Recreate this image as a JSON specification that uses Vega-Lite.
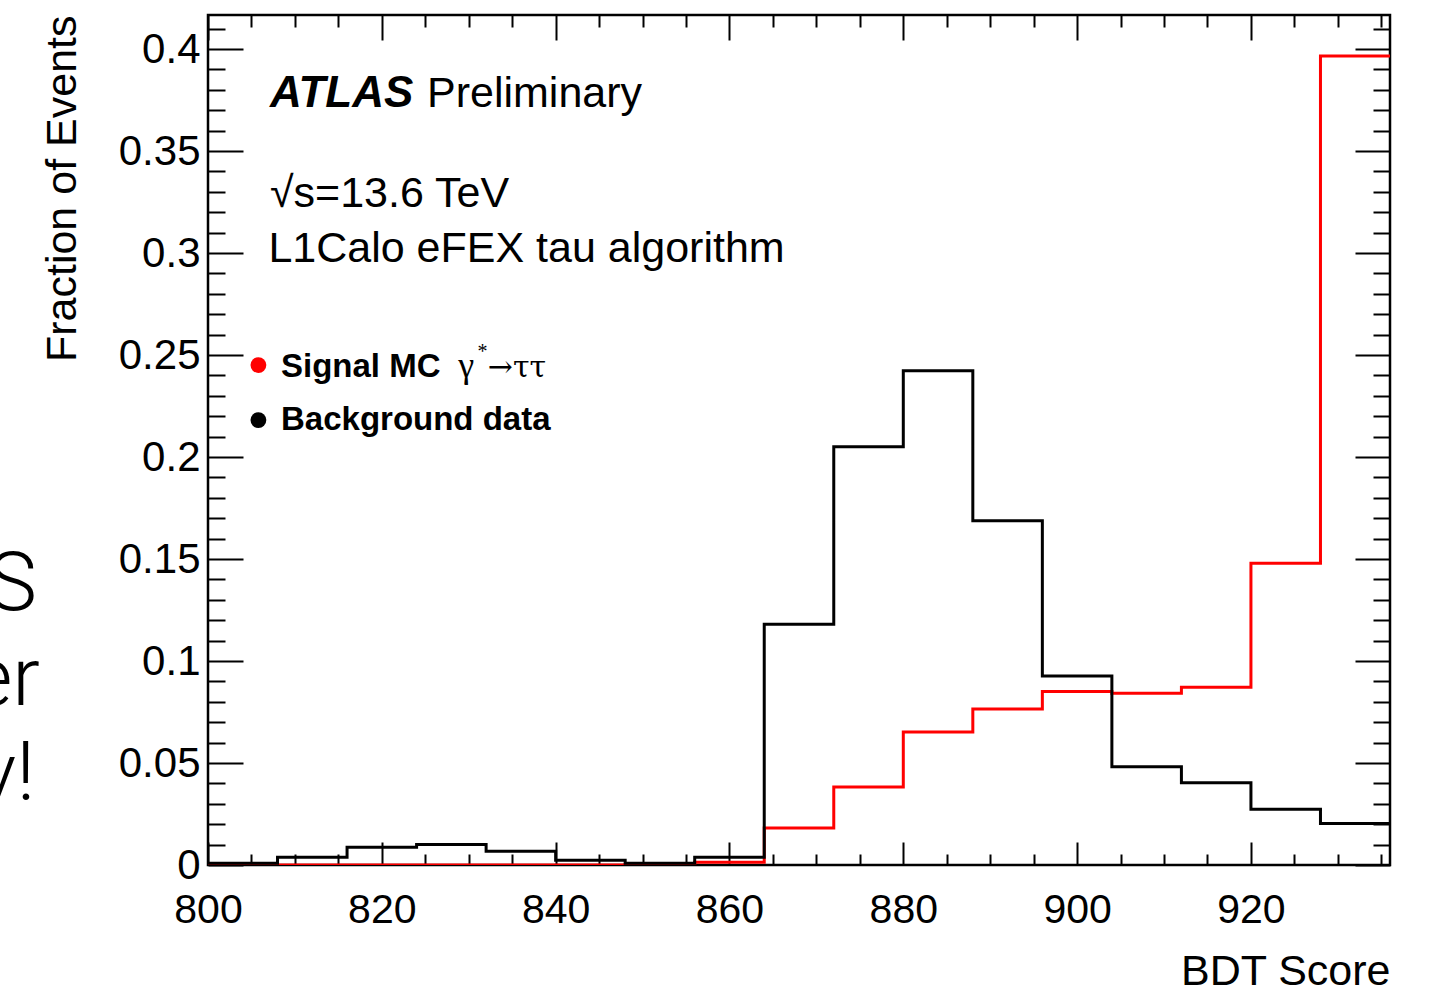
{
  "$schema": "https://vega.github.io/schema/vega-lite/v6.json",
  "width": 1182,
  "height": 850,
  "autosize": "none",
  "padding": {"left": 208, "top": 15, "right": 45, "bottom": 127},
  "background": "white",
  "config": {
    "view": {"stroke": "black", "strokeWidth": 2.5},
    "font": "Liberation Sans",
    "axis": {"domain": false, "grid": false, "labels": false, "ticks": true, "tickColor": "black", "tickWidth": 2, "title": null}
  },
  "datasets": {
    "hist": [
      {"series": "Background data", "bdt": 800, "fraction": 0.0008},
      {"series": "Background data", "bdt": 808, "fraction": 0.0038},
      {"series": "Background data", "bdt": 816, "fraction": 0.0087},
      {"series": "Background data", "bdt": 824, "fraction": 0.0101},
      {"series": "Background data", "bdt": 832, "fraction": 0.0067},
      {"series": "Background data", "bdt": 840, "fraction": 0.0023},
      {"series": "Background data", "bdt": 848, "fraction": 0.0008},
      {"series": "Background data", "bdt": 856, "fraction": 0.0038},
      {"series": "Background data", "bdt": 864, "fraction": 0.118},
      {"series": "Background data", "bdt": 872, "fraction": 0.205},
      {"series": "Background data", "bdt": 880, "fraction": 0.2423},
      {"series": "Background data", "bdt": 888, "fraction": 0.1688},
      {"series": "Background data", "bdt": 896, "fraction": 0.0926},
      {"series": "Background data", "bdt": 904, "fraction": 0.0482},
      {"series": "Background data", "bdt": 912, "fraction": 0.0403},
      {"series": "Background data", "bdt": 920, "fraction": 0.0273},
      {"series": "Background data", "bdt": 928, "fraction": 0.0204},
      {"series": "Background data", "bdt": 936, "fraction": 0.0204},
      {"series": "Signal MC", "bdt": 800, "fraction": 0.0},
      {"series": "Signal MC", "bdt": 808, "fraction": 0.0},
      {"series": "Signal MC", "bdt": 816, "fraction": 0.0},
      {"series": "Signal MC", "bdt": 824, "fraction": 0.0},
      {"series": "Signal MC", "bdt": 832, "fraction": 0.0},
      {"series": "Signal MC", "bdt": 840, "fraction": 0.0},
      {"series": "Signal MC", "bdt": 848, "fraction": 0.0003},
      {"series": "Signal MC", "bdt": 856, "fraction": 0.0013},
      {"series": "Signal MC", "bdt": 864, "fraction": 0.0181},
      {"series": "Signal MC", "bdt": 872, "fraction": 0.0382},
      {"series": "Signal MC", "bdt": 880, "fraction": 0.0652},
      {"series": "Signal MC", "bdt": 888, "fraction": 0.0765},
      {"series": "Signal MC", "bdt": 896, "fraction": 0.085},
      {"series": "Signal MC", "bdt": 904, "fraction": 0.0842},
      {"series": "Signal MC", "bdt": 912, "fraction": 0.0871},
      {"series": "Signal MC", "bdt": 920, "fraction": 0.1479},
      {"series": "Signal MC", "bdt": 928, "fraction": 0.3966},
      {"series": "Signal MC", "bdt": 936, "fraction": 0.3966}
    ]
  },
  "data": {"name": "hist"},
  "resolve": {"axis": {"x": "independent", "y": "independent"}},
  "layer": [
    {
      "transform": [{"filter": "datum.series === 'Signal MC'"}],
      "mark": {"type": "line", "interpolate": "step-after", "color": "#ff0000", "strokeWidth": 3, "clip": true},
      "encoding": {
        "x": {"field": "bdt", "type": "quantitative",
          "scale": {"domain": [800, 936], "nice": false, "zero": false},
          "axis": {"orient": "bottom", "labels": true, "ticks": false, "values": [800, 820, 840, 860, 880, 900, 920],
            "labelFontSize": 41, "labelColor": "black", "labelPadding": 25, "labelFlush": false, "labelOverlap": false,
            "title": "BDT Score", "titleFontSize": 43, "titleFontWeight": "normal", "titleColor": "black",
            "titleAnchor": "end", "titleAlign": "right", "titleBaseline": "alphabetic", "titleY": 119}},
        "y": {"field": "fraction", "type": "quantitative",
          "scale": {"domain": [0, 0.4167], "nice": false},
          "axis": {"orient": "left", "labels": true, "ticks": false, "values": [0, 0.05, 0.1, 0.15, 0.2, 0.25, 0.3, 0.35, 0.4],
            "format": "~g", "labelFontSize": 42, "labelColor": "black", "labelPadding": 8, "labelFlush": false, "labelOverlap": false,
            "title": "Fraction of Events", "titleFontSize": 43, "titleFontWeight": "normal", "titleColor": "black",
            "titleAnchor": "end", "titleAngle": -90, "titleAlign": "right", "titleBaseline": "alphabetic", "titleX": -133, "titleY": 0}}
      }
    },
    {
      "transform": [{"filter": "datum.series === 'Background data'"}],
      "mark": {"type": "line", "interpolate": "step-after", "color": "black", "strokeWidth": 3, "clip": true},
      "encoding": {
        "x": {"field": "bdt", "type": "quantitative",
          "axis": {"orient": "bottom", "tickSize": -23, "values": [800, 820, 840, 860, 880, 900, 920]}},
        "y": {"field": "fraction", "type": "quantitative",
          "axis": {"orient": "left", "tickSize": -35, "values": [0, 0.05, 0.1, 0.15, 0.2, 0.25, 0.3, 0.35, 0.4]}}
      }
    },
    {
      "data": {"values": [{}]},
      "mark": {"type": "point", "filled": true, "shape": "circle", "size": 250, "color": "#ff0000", "opacity": 1},
      "encoding": {
        "x": {"datum": 805.8, "type": "quantitative",
          "axis": {"orient": "bottom", "tickSize": -11, "values": [805, 810, 815, 825, 830, 835, 845, 850, 855, 865, 870, 875, 885, 890, 895, 905, 910, 915, 925, 930, 935]}},
        "y": {"datum": 0.2451, "type": "quantitative",
          "axis": {"orient": "left", "tickSize": -17, "values": [0.01, 0.02, 0.03, 0.04, 0.06, 0.07, 0.08, 0.09, 0.11, 0.12, 0.13, 0.14, 0.16, 0.17, 0.18, 0.19, 0.21, 0.22, 0.23, 0.24, 0.26, 0.27, 0.28, 0.29, 0.31, 0.32, 0.33, 0.34, 0.36, 0.37, 0.38, 0.39, 0.41]}}
      }
    },
    {
      "data": {"values": [{}]},
      "mark": {"type": "point", "filled": true, "shape": "circle", "size": 250, "color": "black", "opacity": 1},
      "encoding": {
        "x": {"datum": 805.8, "type": "quantitative",
          "axis": {"orient": "top", "tickSize": -25, "values": [800, 820, 840, 860, 880, 900, 920]}},
        "y": {"datum": 0.2181, "type": "quantitative",
          "axis": {"orient": "right", "tickSize": -35, "values": [0, 0.05, 0.1, 0.15, 0.2, 0.25, 0.3, 0.35, 0.4]}}
      }
    },
    {
      "data": {"values": [{}]},
      "mark": {"type": "text", "text": "ATLAS", "font": "Liberation Sans", "fontSize": 44, "fontWeight": "bold", "fontStyle": "italic", "align": "left", "baseline": "alphabetic", "color": "black"},
      "encoding": {
        "x": {"datum": 807.13, "type": "quantitative",
          "axis": {"orient": "top", "tickSize": -12, "values": [805, 810, 815, 825, 830, 835, 845, 850, 855, 865, 870, 875, 885, 890, 895, 905, 910, 915, 925, 930, 935]}},
        "y": {"datum": 0.3716, "type": "quantitative",
          "axis": {"orient": "right", "tickSize": -17, "values": [0.01, 0.02, 0.03, 0.04, 0.06, 0.07, 0.08, 0.09, 0.11, 0.12, 0.13, 0.14, 0.16, 0.17, 0.18, 0.19, 0.21, 0.22, 0.23, 0.24, 0.26, 0.27, 0.28, 0.29, 0.31, 0.32, 0.33, 0.34, 0.36, 0.37, 0.38, 0.39, 0.41]}}
      }
    },
    {
      "data": {"values": [{}]},
      "mark": {"type": "text", "text": "Preliminary", "fontSize": 43, "align": "left", "baseline": "alphabetic", "color": "black"},
      "encoding": {"x": {"datum": 825.2, "type": "quantitative", "axis": null}, "y": {"datum": 0.3716, "type": "quantitative", "axis": null}}
    },
    {
      "data": {"values": [{}]},
      "mark": {"type": "text", "text": "√s=13.6 TeV", "fontSize": 43, "align": "left", "baseline": "alphabetic", "color": "black"},
      "encoding": {"x": {"datum": 807.13, "type": "quantitative", "axis": null}, "y": {"datum": 0.3227, "type": "quantitative", "axis": null}}
    },
    {
      "data": {"values": [{}]},
      "mark": {"type": "text", "text": "L1Calo eFEX tau algorithm", "fontSize": 43, "align": "left", "baseline": "alphabetic", "color": "black"},
      "encoding": {"x": {"datum": 806.95, "type": "quantitative", "axis": null}, "y": {"datum": 0.2957, "type": "quantitative", "axis": null}}
    },
    {
      "data": {"values": [{}]},
      "mark": {"type": "text", "text": "Signal MC", "fontSize": 33, "fontWeight": "bold", "align": "left", "baseline": "alphabetic", "color": "black"},
      "encoding": {"x": {"datum": 808.4, "type": "quantitative", "axis": null}, "y": {"datum": 0.2393, "type": "quantitative", "axis": null}}
    },
    {
      "data": {"values": [{}]},
      "mark": {"type": "text", "text": "γ", "font": "Liberation Serif", "fontSize": 36, "align": "left", "baseline": "alphabetic", "color": "black"},
      "encoding": {"x": {"datum": 828.8, "type": "quantitative", "axis": null}, "y": {"datum": 0.2393, "type": "quantitative", "axis": null}}
    },
    {
      "data": {"values": [{}]},
      "mark": {"type": "text", "text": "*", "font": "Liberation Serif", "fontSize": 20, "align": "left", "baseline": "alphabetic", "color": "black"},
      "encoding": {"x": {"datum": 831.0, "type": "quantitative", "axis": null}, "y": {"datum": 0.2485, "type": "quantitative", "axis": null}}
    },
    {
      "data": {"values": [{}]},
      "mark": {"type": "text", "text": "→ττ", "font": "DejaVu Serif", "fontSize": 30, "align": "left", "baseline": "alphabetic", "color": "black"},
      "encoding": {"x": {"datum": 832.2, "type": "quantitative", "axis": null}, "y": {"datum": 0.2393, "type": "quantitative", "axis": null}}
    },
    {
      "data": {"values": [{}]},
      "mark": {"type": "text", "text": "Background data", "fontSize": 33, "fontWeight": "bold", "align": "left", "baseline": "alphabetic", "color": "black"},
      "encoding": {"x": {"datum": 808.4, "type": "quantitative", "axis": null}, "y": {"datum": 0.2132, "type": "quantitative", "axis": null}}
    },
    {
      "data": {"values": [{"t": "S", "px": 780.32, "py": 0.125}, {"t": "er", "px": 780.67, "py": 0.0784}, {"t": "v!", "px": 780.09, "py": 0.0319}]},
      "mark": {"type": "text", "font": "Roboto", "fontWeight": 300, "fontSize": 82, "align": "right", "baseline": "alphabetic", "color": "black", "clip": false},
      "encoding": {
        "text": {"field": "t"},
        "x": {"field": "px", "type": "quantitative", "axis": null},
        "y": {"field": "py", "type": "quantitative", "axis": null}
      }
    }
  ]
}
